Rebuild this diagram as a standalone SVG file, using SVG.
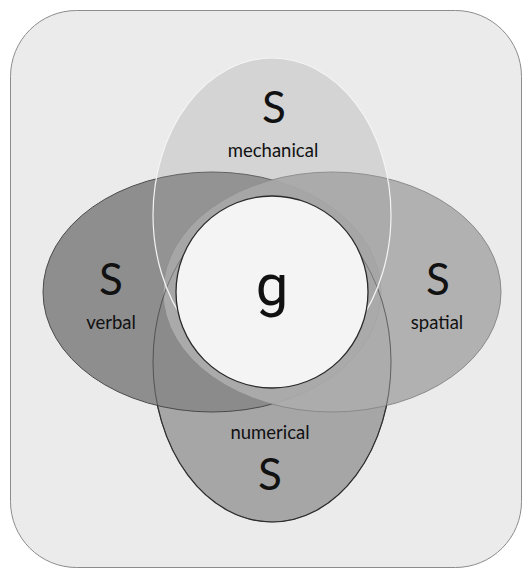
<svg xmlns="http://www.w3.org/2000/svg" width="527" height="569" viewBox="0 0 527 569">
  <style>
    .lbl { font-family: Lato, "Open Sans", "Liberation Sans", sans-serif; fill: #111; text-anchor: middle; }
    .big { font-size: 44px; }
    .small { font-size: 18.5px; }
    .g { font-family: Roboto, "DejaVu Sans", sans-serif; font-size: 58px; }
  </style>
  <!-- backdrop panel -->
  <rect x="10.5" y="10.5" width="511" height="557" rx="66" ry="66" fill="#ebebeb" stroke="#8c8c8c" stroke-width="1"/>

  <g id="numerical">
    <ellipse cx="272" cy="362" rx="119" ry="160" fill="#a6a6a6" stroke="#2e2e2e" stroke-width="1.2"/>
  </g>
  <g id="verbal">
    <ellipse cx="212" cy="292" rx="169" ry="120" fill="#898989" fill-opacity="0.95" stroke="#4a4a4a" stroke-width="1"/>
  </g>
  <g id="spatial">
    <ellipse cx="332" cy="292" rx="169" ry="120" fill="#acacac" fill-opacity="0.93" stroke="#8a8a8a" stroke-width="1"/>
  </g>
  <!-- outline of the numerical set showing through the side sets -->
  <ellipse cx="272" cy="362" rx="119" ry="160" fill="none" stroke="#2e2e2e" stroke-opacity="0.55" stroke-width="1"/>
  <g id="mechanical">
    <ellipse cx="272" cy="215" rx="119" ry="157" fill="#a0a0a0" fill-opacity="0.3" stroke="#f4f4f4" stroke-width="1.2"/>
  </g>
  <g id="general">
    <circle cx="272" cy="292" r="96" fill="#f4f4f4" stroke="#2a2a2a" stroke-width="1.3"/>
  </g>

  <!-- labels -->
  <g id="labels">
    <text class="lbl big" x="274" y="123">S</text>
    <text class="lbl small" x="273" y="157">mechanical</text>
    <text class="lbl big" x="111" y="295">S</text>
    <text class="lbl small" x="111" y="329">verbal</text>
    <text class="lbl big" x="438" y="295">S</text>
    <text class="lbl small" x="437" y="329">spatial</text>
    <text class="lbl g" x="272" y="305">g</text>
    <text class="lbl small" x="270" y="439">numerical</text>
    <text class="lbl big" x="270" y="490">S</text>
  </g>
  <g id="connectors"/>
</svg>
